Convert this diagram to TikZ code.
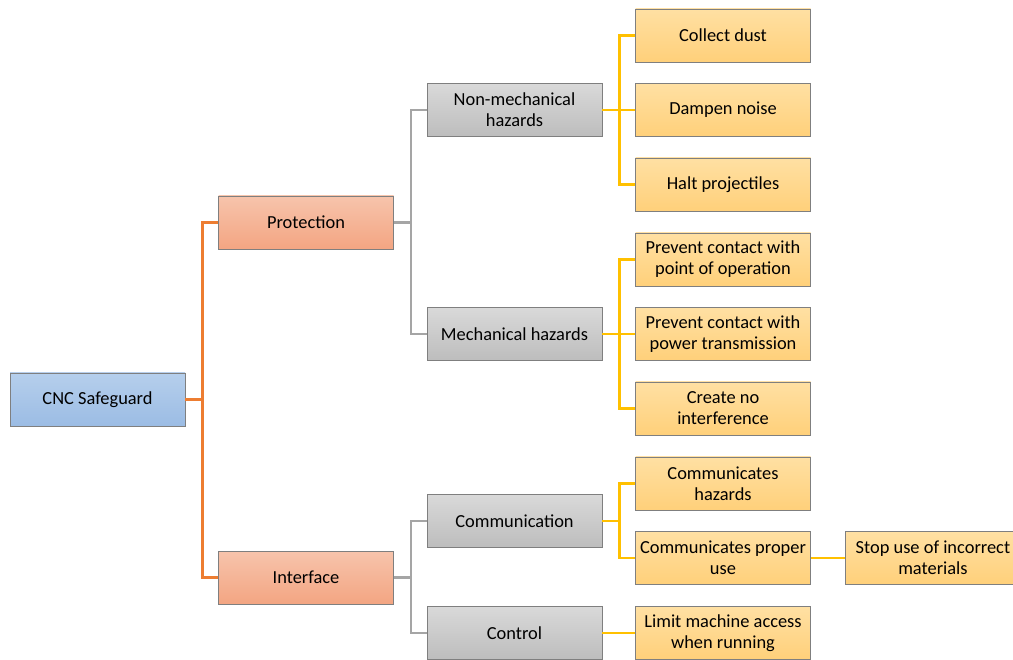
\documentclass[tikz,border=0pt]{standalone}
\usepackage{fontspec}
\setmainfont{Carlito}
\usepackage{tikz}
\usetikzlibrary{positioning,calc}

\definecolor{lnorange}{HTML}{ED7D31}
\definecolor{lngray}{HTML}{A5A5A5}
\definecolor{lnyellow}{HTML}{FFC000}
\definecolor{boxborder}{HTML}{7F7F7F}
\definecolor{bluetop}{HTML}{B6CFEC}
\definecolor{bluebot}{HTML}{9BBCE4}
\definecolor{orangetop}{HTML}{F7C4AC}
\definecolor{orangebot}{HTML}{F3A582}
\definecolor{graytop}{HTML}{D9D9D9}
\definecolor{graybot}{HTML}{BDBDBD}
\definecolor{yellowtop}{HTML}{FFE0A3}
\definecolor{yellowbot}{HTML}{FFD07A}

\tikzset{
	box/.style={rectangle,draw=boxborder,line width=0.9pt,minimum width=175,minimum height=53,
		inner sep=2pt,align=center,font=\fontsize{18.4}{21}\selectfont},
	rootbox/.style={box,top color=bluetop,bottom color=bluebot},
	lvlone/.style={box,top color=orangetop,bottom color=orangebot},
	lvltwo/.style={box,top color=graytop,bottom color=graybot},
	leafbox/.style={box,top color=yellowtop,bottom color=yellowbot},
	link/.style={line width=2.2pt}
}

\begin{document}
\begin{tikzpicture}[x=1pt,y=-1pt]
	\useasboundingbox (0,0) rectangle (1013,660);
	\clip (0,0) rectangle (1013,660);

	% boxes
	\node[rootbox] (safe) at (97.5,399.5) {CNC Safeguard};

	\node[lvlone] (prot) at (306,222.5) {Protection};
	\node[lvlone] (inter) at (306,577.5) {Interface};

	\node[lvltwo] (nonmech) at (514.5,110) {Non-mechanical\\hazards};
	\node[lvltwo] (mech) at (514.5,334) {Mechanical hazards};
	\node[lvltwo] (comm) at (514.5,521) {Communication};
	\node[lvltwo] (ctrl) at (514.5,633) {Control};

	\node[leafbox] (dust) at (723,35.5) {Collect dust};
	\node[leafbox] (noise) at (723,110) {Dampen noise};
	\node[leafbox] (halt) at (723,184.5) {Halt projectiles};
	\node[leafbox] (point) at (723,259.5) {Prevent contact with\\point of operation};
	\node[leafbox] (power) at (723,334) {Prevent contact with\\power transmission};
	\node[leafbox] (nointer) at (723,408.5) {Create no\\interference};
	\node[leafbox] (hazcomm) at (723,483.5) {Communicates\\hazards};
	\node[leafbox] (propuse) at (723,558) {Communicates proper\\use};
	\node[leafbox] (limit) at (723,633) {Limit machine access\\when running};
	\node[leafbox,anchor=west] (stopuse) at (845,558) {Stop use of incorrect\\materials};

	% connectors
	\foreach \b in {prot,inter}
		\draw[link,lnorange] (safe.east) -- ++(17,0) |- (\b.west);
	\foreach \b in {nonmech,mech}
		\draw[link,lngray] (prot.east) -- ++(17,0) |- (\b.west);
	\foreach \b in {comm,ctrl}
		\draw[link,lngray] (inter.east) -- ++(17,0) |- (\b.west);
	\foreach \b in {dust,noise,halt}
		\draw[link,lnyellow] (nonmech.east) -- ++(17,0) |- (\b.west);
	\foreach \b in {point,power,nointer}
		\draw[link,lnyellow] (mech.east) -- ++(17,0) |- (\b.west);
	\foreach \b in {hazcomm,propuse}
		\draw[link,lnyellow] (comm.east) -- ++(17,0) |- (\b.west);
	\draw[link,lnyellow] (ctrl) -- (limit);
	\draw[link,lnyellow] (propuse) -- (stopuse);
\end{tikzpicture}
\end{document}
